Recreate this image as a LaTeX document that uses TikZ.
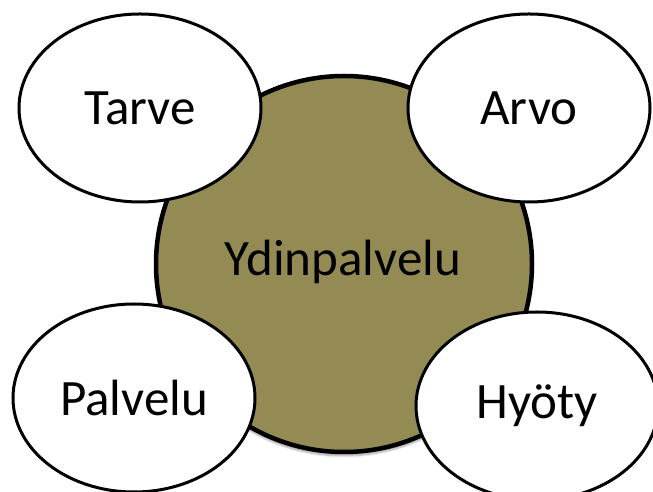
\documentclass[tikz,border=0pt]{standalone}
\usepackage{fontspec}
\setmainfont{Carlito}
\usepackage{tikz}
\usetikzlibrary{shapes.geometric,shadows.blur}
\usepackage{xcolor}
\definecolor{olive}{HTML}{948A54}

\tikzset{
  core/.style={circle,draw=black,line width=4.5pt,fill=olive,minimum size=376pt,inner sep=0pt,
    blur shadow={shadow xshift=0pt,shadow yshift=-4pt,shadow blur steps=6,shadow opacity=35}},
  aspect/.style={ellipse,draw=black,line width=3pt,fill=white,minimum width=242pt,minimum height=188pt,inner sep=0pt},
}

\begin{document}
\begin{tikzpicture}[x=1pt,y=1pt,font=\fontsize{51}{60}\selectfont]
\useasboundingbox (0,0) rectangle (653,492);
\node[core] (ydin) at (344,228) {};
\node at (343,230) {Ydinpalvelu};
% four aspects around the core
\node[aspect] (tarve) at (140,384) {Tarve};
\node[aspect] (arvo) at (529,384) {Arvo};
\node[aspect] (palvelu) at (134,94) {Palvelu};
\node[aspect] (hyoty) at (537,86) {Hyöty};
\end{tikzpicture}
\end{document}
